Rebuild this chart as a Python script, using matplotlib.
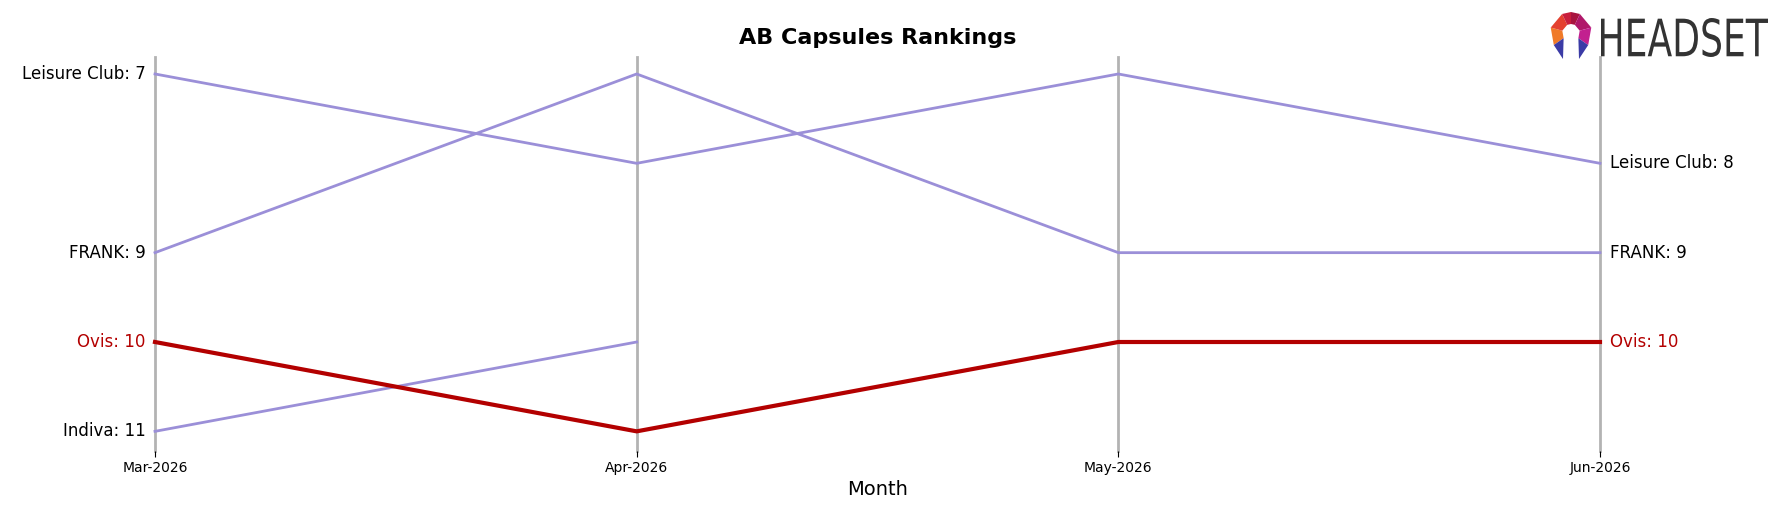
import numpy as np
import matplotlib
matplotlib.use("Agg")
import matplotlib.pyplot as plt
from matplotlib.patches import Polygon, PathPatch
from matplotlib.textpath import TextPath
from matplotlib.font_manager import FontProperties
from matplotlib.transforms import Affine2D

# ranking data (lower rank number = better)
months = ["Mar-2026", "Apr-2026", "May-2026", "Jun-2026"]
brands = ["Leisure Club", "FRANK", "Ovis", "Indiva"]
leisure_club = [7, 8, 7, 8]
frank = [9, 7, 9, 9]
ovis = [10, 11, 10, 10]
indiva = [11, 10, np.nan, np.nan]
highlight = "Ovis"

PURPLE = "#9b8fd8"
RED = "#b30000"
GRAY = "#b3b3b3"

W, H = 1783, 507
fig = plt.figure(figsize=(W / 100, H / 100), dpi=100)
ax = fig.add_axes([155 / W, 1 - 451 / H, (1600 - 155) / W, (451 - 57) / H])

x = np.arange(len(months))
series = dict(zip(brands, [leisure_club, frank, ovis, indiva]))

for xi in x:
    ax.axvline(xi, color=GRAY, lw=2, zorder=1, clip_on=False)

for name, vals in series.items():
    vals = np.array(vals, dtype=float)
    hl = name == highlight
    ax.plot(x, vals, color=RED if hl else PURPLE, lw=3 if hl else 2,
            zorder=3 if hl else 2, clip_on=False)
    col = RED if hl else "black"
    ok = np.where(~np.isnan(vals))[0]
    first, last = ok[0], ok[-1]
    ax.text(first - 0.02, vals[first], f"{name}: {int(vals[first])}",
            ha="right", va="center", fontsize=12, color=col)
    if last == len(months) - 1:
        ax.text(last + 0.02, vals[last], f"{name}: {int(vals[last])}",
                ha="left", va="center", fontsize=12, color=col)

ax.set_xlim(x[0], x[-1])
ax.set_ylim(11.22, 6.81)
ax.set_xticks(x)
ax.set_xticklabels(months, fontsize=10)
ax.set_yticks([])
ax.tick_params(axis="x", length=4, color="black", width=0.8)
for s in ax.spines.values():
    s.set_visible(False)
ax.set_xlabel("Month", fontsize=14, labelpad=3)
ax.set_title("AB Capsules Rankings", fontsize=16, fontweight="bold", pad=9)


# --- HEADSET logo, drawn in figure pixel coords (y measured downwards) ---
def px(pts):
    return [(a / W, 1 - b / H) for a, b in pts]


def add_poly(pts, color):
    fig.patches.append(Polygon(px(pts), closed=True, color=color, lw=0,
                               transform=fig.transFigure, figure=fig))


cx, cy = 1571, 33
ro, ri = 21, 9
angles = np.deg2rad([215, 165, 115, 90, 65, 15, -35])
cols = ["#f07a28", "#e4402f", "#c81e3c", "#a8143f", "#b0186a", "#c2208f"]
ring = [(cx + ro * np.cos(a), cy - ro * np.sin(a)) for a in angles]
hole = [(cx + ri * np.cos(a), cy - ri * np.sin(a)) for a in angles]
for i in range(len(angles) - 1):
    add_poly([ring[i], ring[i + 1], hole[i + 1], hole[i]], cols[i])
add_poly([ring[0], hole[0], (1563, 59)], "#3b3ba6")
add_poly([ring[-1], hole[-1], (1579, 59)], "#3b3ba6")

# condensed wordmark: squeeze a text path into the logo box
tp = TextPath((0, 0), "HEADSET", size=40,
              prop=FontProperties(family="DejaVu Sans"))
bb = tp.get_extents()
x0, x1, top, bot = 1601, 1768, 18, 57
tr = (Affine2D().translate(-bb.x0, -bb.y0)
      .scale((x1 - x0) / bb.width / W, (bot - top) / bb.height / H)
      .translate(x0 / W, (H - bot) / H))
fig.patches.append(PathPatch(tr.transform_path(tp), color="#333333", lw=0,
                             transform=fig.transFigure, figure=fig))

fig.savefig("out.png", dpi=100)
